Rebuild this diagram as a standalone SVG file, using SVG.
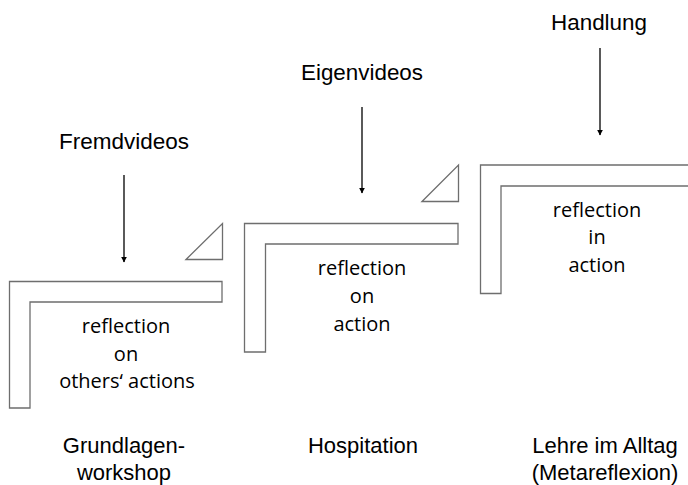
<svg xmlns="http://www.w3.org/2000/svg" width="688" height="485" viewBox="0 0 688 485">
<style>
.shape{fill:#ffffff;stroke:#6e6e6e;stroke-width:1.3}
.lbl{font-family:"Liberation Sans",Arial,sans-serif;font-size:22px;fill:#000;text-anchor:middle}
.in{font-family:"Open Sans","Liberation Sans",sans-serif;font-size:20px;fill:#000;text-anchor:middle}
.arr{stroke:#000;stroke-width:1.3;fill:none;marker-end:url(#ah)}
</style>
<defs>
<marker id="ah" viewBox="0 0 10 10" refX="9" refY="5" markerWidth="6" markerHeight="6" markerUnits="userSpaceOnUse" orient="auto">
<path d="M0,0 L10,5 L0,10 Z" fill="#000"/>
</marker>
</defs>
<rect width="688" height="485" fill="#fff"/>
<g id="connectors">
<line class="arr" x1="124" y1="175" x2="124" y2="262"/>
<line class="arr" x1="362" y1="107" x2="362" y2="193"/>
<line class="arr" x1="600" y1="48" x2="600" y2="135"/>
</g>
<g id="step1">
<path class="shape" d="M9.5,281.5 H222 V302 H30 V408 H9.5 Z"/>
<text class="in" x="126" y="333">reflection</text>
<text class="in" x="126" y="361">on</text>
<text class="in" x="127" y="388">others‘ actions</text>
</g>
<g id="tri1">
<path class="shape" d="M186,259.5 L222.5,223.5 V259.5 Z"/>
</g>
<g id="step2">
<path class="shape" d="M244.5,223.5 H458 V244 H265.5 V352 H244.5 Z"/>
<text class="in" x="362" y="275">reflection</text>
<text class="in" x="362" y="303">on</text>
<text class="in" x="362" y="331">action</text>
</g>
<g id="tri2">
<path class="shape" d="M422,201.5 L458.5,165 V201.5 Z"/>
</g>
<g id="step3">
<path class="shape" d="M480.5,165 H700 V186 H501 V293.5 H480.5 Z"/>
<text class="in" x="597" y="217">reflection</text>
<text class="in" x="597" y="244">in</text>
<text class="in" x="597" y="272">action</text>
</g>
<g id="inputs">
<text class="lbl" x="124" y="149" textLength="130" lengthAdjust="spacingAndGlyphs">Fremdvideos</text>
<text class="lbl" x="362" y="80" textLength="122" lengthAdjust="spacingAndGlyphs">Eigenvideos</text>
<text class="lbl" x="599" y="30" textLength="96" lengthAdjust="spacingAndGlyphs">Handlung</text>
</g>
<g id="phases">
<text class="lbl" x="124" y="453">Grundlagen-</text>
<text class="lbl" x="124" y="480">workshop</text>
<text class="lbl" x="363" y="453">Hospitation</text>
<text class="lbl" x="605" y="453">Lehre im Alltag</text>
<text class="lbl" x="605" y="480">(Metareflexion)</text>
</g>
</svg>
